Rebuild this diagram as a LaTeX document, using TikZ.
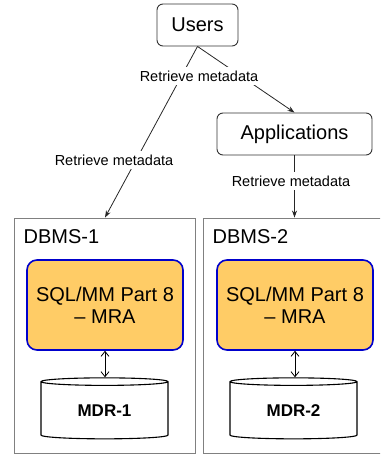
\documentclass[tikz,border=0pt]{standalone}
\usepackage{fontspec}
\setmainfont{Liberation Sans}
\usetikzlibrary{shapes.geometric,arrows.meta}
\definecolor{mrafill}{HTML}{FFCC66}
\definecolor{mraline}{HTML}{0000CC}
\tikzstyle{actor}=[draw=black!80,line width=0.9pt,rounded corners=6pt,inner sep=0,minimum height=42pt,font=\fontsize{20}{24}\selectfont]
\tikzset{dbms/.style={draw=black!50,line width=0.9pt,inner sep=0}}
\tikzset{dbmstag/.style={anchor=west,inner sep=0,font=\fontsize{20}{24}\selectfont}}
\tikzset{
  mra/.style={
    draw=mraline,
    fill=mrafill,
    line width=1.6pt,
    rounded corners=10pt,
    inner sep=0,
    minimum width=156pt,
    minimum height=90pt,
    align=center,
    font=\fontsize{20}{22}\selectfont
  }
}
\tikzset{
  repo/.style={
    cylinder,
    shape border rotate=90,
    shape aspect=0.14,
    draw,
    line width=1.1pt,
    inner sep=0,
    minimum width=127pt,
    minimum height=61pt,
    font=\bfseries\fontsize{17}{20}\selectfont
  }
}
\tikzset{retrieve/.style={fill=white,inner sep=4pt,font=\fontsize{14.5}{17}\selectfont}}
\tikzset{link/.style={draw=black!85,line width=0.8pt,-{Stealth[length=7pt,width=5pt]}}}
\tikzset{access/.style={line width=0.8pt,{Straight Barb[length=5pt,width=8pt]}-{Straight Barb[length=5pt,width=8pt]}}}

\begin{document}
\begin{tikzpicture}[x=1pt,y=-1pt]

\clip (0,0) rectangle (380,454);

\node[actor,minimum width=81pt] (users) at (197.5,25) {Users};
\node[actor,minimum width=155pt] (apps) at (294.5,134) {Applications};

\node[dbms,minimum width=181.5pt,minimum height=235.5pt] (dbmsA) at (105,335.75) {};
\node[dbms,minimum width=194pt,minimum height=235.5pt] (dbmsB) at (300.3,335.75) {};
\node[dbmstag] (tagA) at (23.5,237) {DBMS-1};
\node[dbmstag] (tagB) at (212.5,237) {DBMS-2};

\node[mra] (mraA) at (105,305) {SQL/MM Part 8\\ -- MRA};
\node[mra] (mraB) at (295,305) {SQL/MM Part 8\\ -- MRA};

\node[repo] (mdrA) at (104.5,410.5) {MDR-1};
\node[repo] (mdrB) at (293.5,410.5) {MDR-2};

\draw[link] (users.south) -- (dbmsA.north);
\draw[link] (users.south) -- (apps.north);
\draw[link] (apps.south) -- (apps.south |- dbmsB.north);
\draw[access] (mraA.south) -- (mraA.south |- mdrA.top);
\draw[access] (mraB.south) -- (mraB.south |- mdrB.top);

\node[retrieve] (askA) at (199,76) {Retrieve metadata};
\node[retrieve] (askB) at (114,160) {Retrieve metadata};
\node[retrieve] (askC) at (291,181) {Retrieve metadata};

\end{tikzpicture}
\end{document}
